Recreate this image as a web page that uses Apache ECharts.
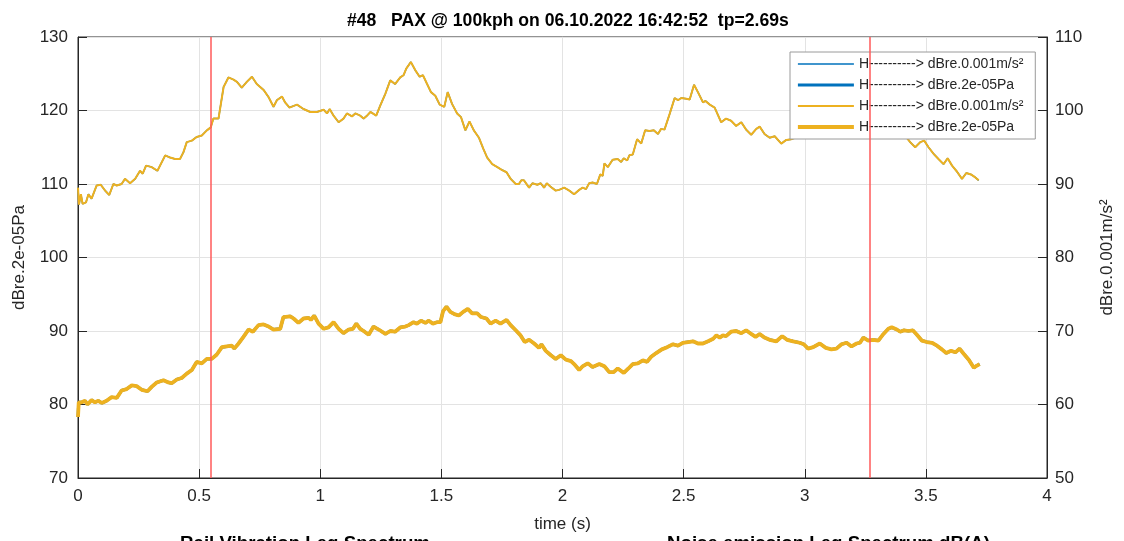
<!DOCTYPE html>
<html>
<head>
<meta charset="utf-8">
<script src="https://cdn.jsdelivr.net/npm/echarts@6/dist/echarts.min.js"></script>
<style>
  html, body { margin: 0; padding: 0; background: #fff; }
  #main { width: 1124px; height: 541px; }
</style>
</head>
<body>
<div id="main"></div>
<script>
// upper curve: rail vibration, dB re 0.001 m/s² (right axis)
const vibTime = [0, 0.004, 0.012, 0.019, 0.033, 0.043, 0.056, 0.077, 0.094, 0.112, 0.129, 0.146, 0.160, 0.180, 0.194, 0.215, 0.236, 0.256, 0.267, 0.281,
  0.304, 0.328, 0.360, 0.380, 0.401, 0.421, 0.435, 0.449, 0.470, 0.490, 0.511, 0.532, 0.548, 0.559, 0.580, 0.601, 0.621, 0.642, 0.656, 0.676,
  0.697, 0.718, 0.738, 0.766, 0.787, 0.807, 0.821, 0.842, 0.855, 0.873, 0.904, 0.931, 0.959, 0.986, 1.014, 1.028, 1.039, 1.055, 1.076, 1.096,
  1.110, 1.131, 1.145, 1.165, 1.179, 1.193, 1.207, 1.231, 1.248, 1.269, 1.289, 1.309, 1.330, 1.344, 1.355, 1.374, 1.392, 1.410, 1.424, 1.441,
  1.457, 1.475, 1.493, 1.512, 1.526, 1.544, 1.565, 1.581, 1.599, 1.616, 1.634, 1.655, 1.673, 1.689, 1.710, 1.731, 1.751, 1.769, 1.786, 1.807,
  1.820, 1.830, 1.841, 1.862, 1.876, 1.896, 1.910, 1.924, 1.935, 1.952, 1.972, 1.986, 2.007, 2.028, 2.048, 2.069, 2.083, 2.097, 2.110, 2.124,
  2.142, 2.156, 2.166, 2.173, 2.187, 2.207, 2.228, 2.242, 2.253, 2.267, 2.276, 2.290, 2.308, 2.325, 2.341, 2.359, 2.377, 2.394, 2.407, 2.421,
  2.442, 2.463, 2.477, 2.490, 2.511, 2.525, 2.543, 2.559, 2.580, 2.590, 2.608, 2.628, 2.655, 2.675, 2.696, 2.717, 2.738, 2.758, 2.779, 2.800,
  2.814, 2.834, 2.855, 2.876, 2.903, 2.924, 2.945, 2.970, 3.000, 3.030, 3.060, 3.090, 3.120, 3.150, 3.180, 3.210, 3.240, 3.270, 3.300, 3.330,
  3.360, 3.390, 3.421, 3.435, 3.456, 3.477, 3.493, 3.511, 3.532, 3.552, 3.573, 3.590, 3.608, 3.628, 3.649, 3.667, 3.686, 3.704, 3.718];
const vibDb = [89.5, 87.2, 88.6, 87.3, 87.5, 88.6, 88.0, 89.8, 89.9, 89.1, 88.5, 90.0, 89.8, 90.0, 90.7, 90.1, 90.7, 91.8, 91.4, 92.5,
  92.3, 91.8, 93.9, 93.6, 93.4, 93.4, 94.3, 95.7, 95.9, 96.4, 96.6, 97.3, 97.7, 98.9, 98.9, 103.2, 104.5, 104.2, 103.9, 103.1,
  103.9, 104.6, 103.6, 102.8, 101.8, 100.5, 101.4, 101.9, 101.1, 100.4, 100.8, 100.2, 99.8, 99.8, 100.1, 99.6, 100.2, 99.3, 98.4, 98.9,
  99.6, 99.2, 99.6, 99.3, 98.9, 99.3, 99.8, 99.3, 100.7, 102.3, 104.1, 103.6, 104.5, 104.8, 105.7, 106.6, 105.5, 104.6, 104.8, 103.6,
  102.5, 102.0, 100.8, 100.5, 102.5, 100.9, 99.6, 99.1, 97.3, 98.5, 97.3, 96.3, 94.8, 93.6, 92.7, 92.3, 91.9, 91.6, 90.7, 90.0,
  90.0, 90.5, 90.5, 89.5, 90.1, 89.9, 90.1, 89.5, 90.1, 89.6, 89.1, 89.2, 89.5, 89.1, 88.6, 89.2, 89.5, 89.3, 90.1, 90.2,
  90.0, 91.3, 91.1, 92.8, 92.3, 93.3, 93.4, 93.0, 93.5, 93.2, 93.9, 94.0, 96.1, 95.5, 97.3, 97.2, 97.3, 96.8, 97.5, 97.4,
  99.5, 101.7, 101.4, 101.7, 101.6, 101.5, 103.5, 102.5, 101.1, 101.3, 100.8, 100.4, 98.4, 98.9, 98.6, 97.9, 98.4, 97.4, 96.7, 97.5,
  97.8, 96.8, 96.3, 96.5, 95.5, 96.0, 96.1, 96.4, 96.9, 96.5, 97.2, 96.8, 97.4, 97.0, 97.6, 97.2, 97.5, 96.9, 97.3, 96.8,
  97.0, 96.5, 96.3, 95.7, 95.0, 95.7, 95.9, 95.0, 94.1, 93.4, 92.7, 93.5, 92.5, 91.7, 90.7, 91.5, 91.3, 90.9, 90.5];

// lower curve: noise, dB re 2e-05 Pa (left axis)
const noiseTime = [0, 0.003, 0.015, 0.029, 0.039, 0.056, 0.070, 0.084, 0.098, 0.118, 0.139, 0.160, 0.180, 0.201, 0.222, 0.242, 0.263, 0.287, 0.304, 0.325,
  0.353, 0.373, 0.387, 0.408, 0.428, 0.449, 0.470, 0.490, 0.511, 0.532, 0.552, 0.573, 0.594, 0.614, 0.635, 0.645, 0.663, 0.683, 0.704, 0.722,
  0.745, 0.766, 0.787, 0.807, 0.835, 0.848, 0.876, 0.890, 0.910, 0.931, 0.952, 0.961, 0.975, 0.993, 1.014, 1.034, 1.055, 1.076, 1.096, 1.117,
  1.135, 1.149, 1.165, 1.179, 1.200, 1.220, 1.241, 1.269, 1.289, 1.309, 1.331, 1.351, 1.365, 1.385, 1.399, 1.416, 1.434, 1.448, 1.465, 1.482,
  1.496, 1.507, 1.521, 1.537, 1.554, 1.572, 1.590, 1.609, 1.627, 1.648, 1.664, 1.686, 1.703, 1.724, 1.744, 1.769, 1.786, 1.807, 1.827, 1.844,
  1.862, 1.883, 1.903, 1.913, 1.931, 1.952, 1.972, 1.993, 2.014, 2.035, 2.048, 2.069, 2.083, 2.104, 2.124, 2.152, 2.173, 2.193, 2.211, 2.228,
  2.253, 2.272, 2.290, 2.311, 2.332, 2.349, 2.366, 2.387, 2.410, 2.432, 2.456, 2.477, 2.497, 2.518, 2.539, 2.559, 2.580, 2.601, 2.622, 2.635,
  2.649, 2.662, 2.675, 2.696, 2.717, 2.738, 2.758, 2.779, 2.797, 2.814, 2.834, 2.855, 2.883, 2.907, 2.927, 2.952, 2.979, 2.996, 3.014, 3.035,
  3.062, 3.087, 3.110, 3.131, 3.152, 3.173, 3.193, 3.214, 3.228, 3.242, 3.262, 3.283, 3.304, 3.325, 3.345, 3.359, 3.380, 3.394, 3.410, 3.428,
  3.446, 3.463, 3.483, 3.504, 3.525, 3.546, 3.566, 3.584, 3.604, 3.622, 3.639, 3.656, 3.677, 3.698, 3.711, 3.722];
const noiseDb = [78.3, 80.3, 80.3, 80.5, 80.0, 80.6, 80.3, 80.5, 80.2, 80.5, 81.0, 80.9, 81.9, 82.1, 82.6, 82.5, 82.0, 81.8, 82.4, 83.0,
  83.3, 83.0, 82.9, 83.4, 83.6, 84.2, 84.7, 85.8, 85.6, 86.2, 86.2, 86.8, 87.8, 87.9, 88.0, 87.6, 88.3, 89.2, 90.2, 89.9,
  90.8, 90.9, 90.6, 90.2, 90.3, 91.9, 92.0, 91.7, 91.1, 91.7, 91.8, 91.5, 92.1, 91.0, 90.3, 90.5, 91.2, 90.3, 89.7, 90.2,
  90.3, 91.0, 90.3, 90.0, 89.5, 90.6, 90.2, 89.6, 90.0, 89.9, 90.5, 90.6, 90.8, 91.2, 91.0, 91.4, 91.1, 91.4, 91.0, 91.2,
  91.2, 92.7, 93.3, 92.6, 92.3, 92.1, 92.6, 93.0, 92.4, 92.4, 91.9, 91.7, 91.0, 91.4, 91.0, 91.5, 90.8, 90.1, 89.4, 88.5,
  88.8, 88.3, 87.7, 88.2, 87.3, 86.7, 86.2, 86.7, 86.1, 85.9, 85.5, 84.7, 85.2, 85.6, 85.1, 85.5, 85.2, 84.4, 84.4, 84.9,
  84.3, 84.9, 85.5, 85.6, 86.0, 85.8, 86.5, 87.0, 87.5, 87.8, 88.2, 88.0, 88.4, 88.5, 88.6, 88.3, 88.3, 88.6, 88.95, 89.4,
  89.1, 89.4, 89.3, 89.9, 90.0, 89.7, 90.1, 89.6, 89.2, 89.6, 89.1, 88.8, 88.6, 89.3, 88.8, 88.6, 88.4, 88.2, 87.6, 87.8,
  88.3, 87.7, 87.5, 87.6, 88.2, 88.4, 87.9, 88.3, 88.4, 89.1, 88.7, 88.8, 88.7, 89.6, 90.3, 90.5, 90.2, 89.9, 90.1, 90.0,
  90.1, 89.5, 88.7, 88.5, 88.4, 88.0, 87.5, 87.0, 87.3, 87.1, 87.6, 86.9, 86.1, 85.0, 85.3, 85.5];

const cursorTimes = [0.55, 3.27];

const nameVib = 'H----------> dBre.0.001m/s²';
const namePa = 'H----------> dBre.2e-05Pa';

const vibData = vibTime.map((t, i) => [t, vibDb[i]]);
const noiseData = noiseTime.map((t, i) => [t, noiseDb[i]]);

const FONT = '"Liberation Sans", Arial, Helvetica, sans-serif';
const INK = '#262626';
const BLUE = '#0072BD';
const YELLOW = '#EDB120';

const option = {
    animation: false,
    backgroundColor: '#ffffff',
    textStyle: { fontFamily: FONT },
    title: {
        text: '#48   PAX @ 100kph on 06.10.2022 16:42:52  tp=2.69s',
        left: 342,
        top: 7,
        textStyle: { fontFamily: FONT, fontSize: 17.6, fontWeight: 'bold', color: '#000' }
    },
    legend: {
        orient: 'vertical',
        left: 790,
        top: 52,
        padding: [5, 8, 5, 6],
        itemWidth: 56,
        itemHeight: 14,
        itemGap: 7,
        backgroundColor: '#ffffff',
        borderColor: '#9a9a9a',
        borderWidth: 1,
        borderRadius: 0,
        itemStyle: { opacity: 0, color: 'transparent', borderWidth: 0 },
        lineStyle: { width: 'inherit' },
        textStyle: { fontFamily: FONT, fontSize: 14, color: INK },
        data: [nameVib, namePa, nameVib + ' ', namePa + ' ']
    },
    grid: {
        left: 78, right: 77, top: 37, bottom: 63,
        show: true,
        borderColor: INK,
        borderWidth: 1
    },
    xAxis: {
        type: 'value',
        min: 0, max: 4, interval: 0.5,
        name: 'time (s)',
        nameLocation: 'middle',
        nameGap: 38,
        nameTextStyle: { fontFamily: FONT, fontSize: 17, color: INK },
        axisLine: { lineStyle: { color: INK } },
        axisTick: { inside: true, length: 9, lineStyle: { color: INK } },
        axisLabel: { fontFamily: FONT, fontSize: 17, color: INK, margin: 10 },
        splitLine: { lineStyle: { color: '#e3e3e3' } }
    },
    yAxis: [{
        type: 'value',
        position: 'left',
        min: 70, max: 130, interval: 10,
        name: 'dBre.2e-05Pa',
        nameLocation: 'middle',
        nameRotate: 90,
        nameGap: 50,
        nameTextStyle: { fontFamily: FONT, fontSize: 17, color: INK },
        axisLine: { show: true, lineStyle: { color: INK } },
        axisTick: { show: true, inside: true, length: 9, lineStyle: { color: INK } },
        axisLabel: { fontFamily: FONT, fontSize: 17, color: INK, margin: 10 },
        splitLine: { lineStyle: { color: '#e3e3e3' } }
    }, {
        type: 'value',
        position: 'right',
        min: 50, max: 110, interval: 10,
        name: 'dBre.0.001m/s²',
        nameLocation: 'middle',
        nameRotate: 90,
        nameGap: 52,
        nameTextStyle: { fontFamily: FONT, fontSize: 17, color: INK },
        axisLine: { show: true, lineStyle: { color: INK } },
        axisTick: { show: true, inside: true, length: 9, lineStyle: { color: INK } },
        axisLabel: { fontFamily: FONT, fontSize: 17, color: INK, margin: 8 },
        splitLine: { show: false }
    }],
    series: [
        {
            name: nameVib, type: 'line', yAxisIndex: 1, data: vibData,
            showSymbol: false, symbol: 'none', color: BLUE,
            lineStyle: { width: 1.5, color: BLUE }
        },
        {
            name: namePa, type: 'line', yAxisIndex: 0, data: noiseData,
            showSymbol: false, symbol: 'none', color: BLUE,
            lineStyle: { width: 3, color: BLUE }
        },
        {
            name: nameVib + ' ', type: 'line', yAxisIndex: 1, data: vibData,
            showSymbol: false, symbol: 'none', color: YELLOW,
            lineStyle: { width: 2, color: YELLOW }
        },
        {
            name: namePa + ' ', type: 'line', yAxisIndex: 0, data: noiseData,
            showSymbol: false, symbol: 'none', color: YELLOW,
            lineStyle: { width: 3.8, color: YELLOW },
            markLine: {
                silent: true,
                symbol: ['none', 'none'],
                label: { show: false },
                lineStyle: { color: '#ff5a5a', width: 1.5, type: 'solid' },
                data: cursorTimes.map(t => ({ xAxis: t }))
            }
        }
    ],
    graphic: [
        {
            type: 'text', left: 180, top: 534,
            style: { text: 'Rail Vibration Leq Spectrum', font: 'bold 18.7px ' + FONT, fill: '#000' }
        },
        {
            type: 'text', left: 667, top: 534,
            style: { text: 'Noise emission Leq Spectrum dB(A)', font: 'bold 18.7px ' + FONT, fill: '#000' }
        }
    ]
};

const myChart = echarts.init(document.getElementById('main'), null, { renderer: 'canvas' });
myChart.setOption(option);
</script>
</body>
</html>
